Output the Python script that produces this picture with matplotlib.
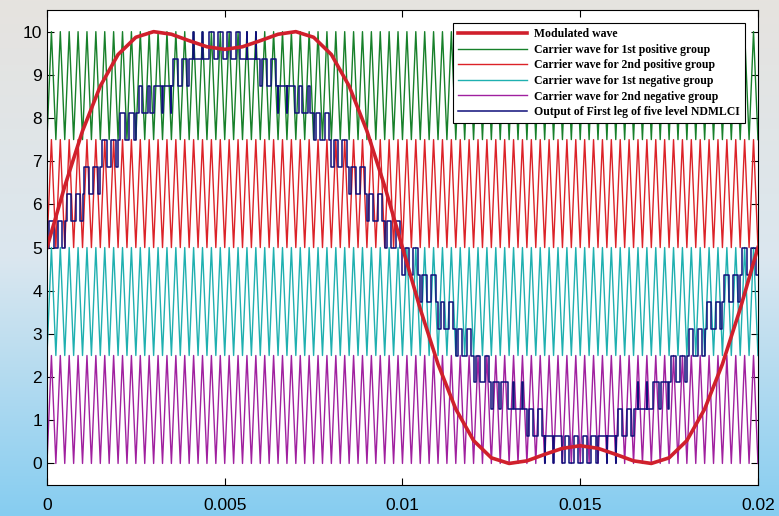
import numpy as np
import matplotlib
matplotlib.use('Agg')
import matplotlib.pyplot as plt
from matplotlib.colors import LinearSegmentedColormap

# time axis of the reference curve (one fundamental period, 0.0005 s steps)
t_ref = np.linspace(0, 0.02, 41)

# modulated (reference) wave
mod_wave = [5.0, 6.42, 7.70, 8.74, 9.47, 9.87, 10.0, 9.94, 9.79, 9.65, 9.59,
            9.65, 9.79, 9.94, 10.0, 9.87, 9.47, 8.74, 7.70, 6.42, 5.0,
            3.58, 2.30, 1.26, 0.53, 0.13, 0.0, 0.06, 0.21, 0.35, 0.41,
            0.35, 0.21, 0.06, 0.0, 0.13, 0.53, 1.26, 2.30, 3.58, 5.0]

# carriers: number of cycles and band limits (bottom, top)
n_cycles = 80
carrier_bands = [(7.5, 10.0), (5.0, 7.5), (2.5, 5.0), (0.0, 2.5)]
carrier_colors = ['#17802a', '#dc2228', '#1fb0b0', '#a0209f']
carrier_labels = ['Carrier wave for 1st positive group',
                  'Carrier wave for 2nd positive group',
                  'Carrier wave for 1st negative group',
                  'Carrier wave for 2nd negative group']

# average level of the output staircase in every 0.0005 s slot
out_avg = [5.3, 5.9, 6.6, 7.2, 7.8, 8.3, 8.7, 9.1, 9.4, 9.7,
           9.7, 9.4, 9.1, 8.7, 8.3, 7.8, 7.2, 6.6, 5.9, 5.3,
           4.7, 4.1, 3.4, 2.8, 2.2, 1.7, 1.3, 0.9, 0.6, 0.3,
           0.3, 0.6, 0.9, 1.3, 1.7, 2.2, 2.8, 3.4, 4.1, 4.7]
level_step = 0.625

fig = plt.figure(figsize=(7.79, 5.16), dpi=100)

# page-like background behind the plot
bg = fig.add_axes([0, 0, 1, 1], zorder=-10)
grad = np.linspace(0, 1, 256).reshape(-1, 1)
cmap = LinearSegmentedColormap.from_list('bgc', ['#e6e3df', '#dbe7ef', '#86cdf1'])
bg.imshow(grad, aspect='auto', cmap=cmap, extent=[0, 1, 0, 1], origin='upper')
bg.axis('off')

ax = fig.add_axes([0.0603, 0.060, 0.9127, 0.9205])
ax.set_facecolor('white')

# carriers (triangle waves)
t_tri = np.linspace(0, 0.02, 2 * n_cycles + 1)
car_handles = []
for (lo, hi), c, lab in zip(carrier_bands, carrier_colors, carrier_labels):
    y = np.where(np.arange(len(t_tri)) % 2 == 0, lo, hi)
    h, = ax.plot(t_tri, y, color=c, lw=1.0, label=lab)
    car_handles.append(h)

# output staircase: pwm between neighbouring levels in every carrier period
T = 0.02 / n_cycles
tt, yy = [], []
for k in range(n_cycles):
    v = out_avg[k // 2]
    lo = np.floor(v / level_step) * level_step
    d = (v - lo) / level_step
    t0 = k * T
    tt += [t0, t0 + (1 - d) / 2 * T, t0 + (1 + d) / 2 * T]
    yy += [lo, lo + level_step, lo]
tt.append(0.02)
yy.append(yy[-1])
out_h, = ax.plot(tt, yy, drawstyle='steps-post', color='#10107a', lw=1.1,
                 label='Output of First leg of five level NDMLCI')

mod_h, = ax.plot(t_ref, mod_wave, color='#d0202c', lw=2.6, label='Modulated wave')

ax.set_xlim(0, 0.02)
ax.set_ylim(-0.5, 10.5)
ax.set_yticks(range(0, 11))
ax.set_xticks([0, 0.005, 0.01, 0.015, 0.02])
ax.set_xticklabels(['0', '0.005', '0.01', '0.015', '0.02'])
ax.tick_params(direction='in', top=True, right=True, length=5, labelsize=12.5)
ax.tick_params(axis='x', pad=9)
for lab in ax.get_xticklabels() + ax.get_yticklabels():
    lab.set_family(['Liberation Sans', 'DejaVu Sans'])

leg = ax.legend(handles=[mod_h] + car_handles + [out_h], loc='upper right',
                bbox_to_anchor=(0.9817, 0.9726), borderaxespad=0,
                fancybox=False, framealpha=1, edgecolor='black',
                handlelength=5.8, handletextpad=0.6, borderpad=0.45,
                labelspacing=0.3,
                prop={'family': 'Liberation Serif', 'size': 8.5, 'weight': 'bold'})
leg.get_frame().set_linewidth(0.8)

fig.savefig('out.png', dpi=100)
